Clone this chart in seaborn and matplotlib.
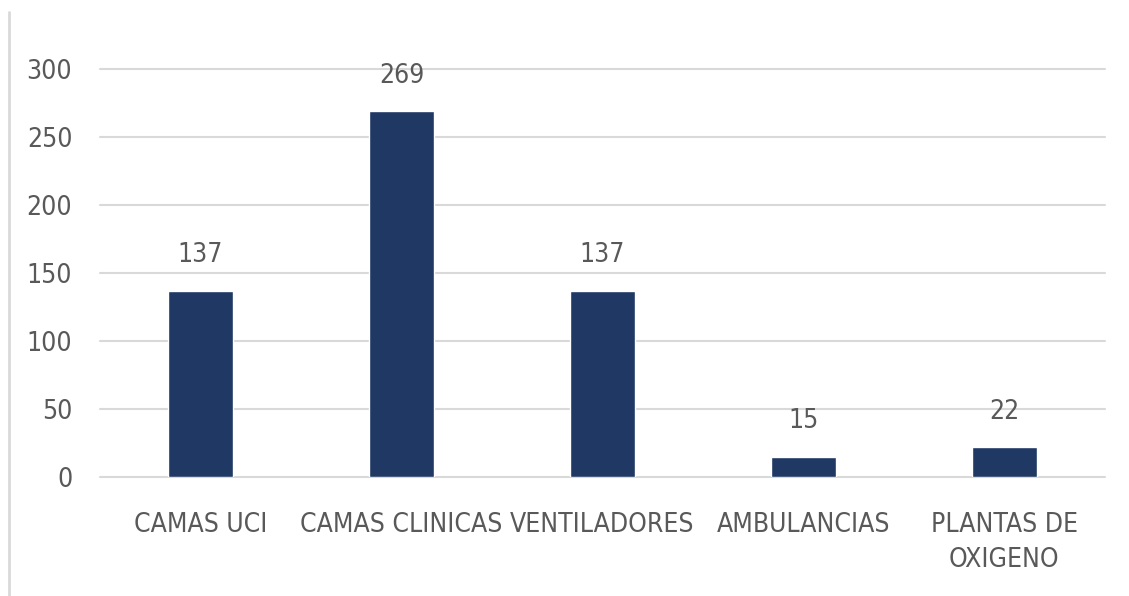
import seaborn as sns
import matplotlib.pyplot as plt
import matplotlib.lines as mlines
import pandas as pd

# data
categorias = ['CAMAS UCI', 'CAMAS CLINICAS', 'VENTILADORES', 'AMBULANCIAS', 'PLANTAS DE\nOXIGENO']
valores = [137, 269, 137, 15, 22]
yticks = [0, 50, 100, 150, 200, 250, 300]

df = pd.DataFrame({'cat': categorias, 'val': valores})

sns.set_style("white")
plt.rcParams['font.family'] = ['DejaVu Sans']
plt.rcParams['font.stretch'] = 'condensed'

text_color = '#595959'
bar_color = '#1f3864'

fig = plt.figure(figsize=(11.29, 5.96), dpi=100)
ax = fig.add_axes([0.0886, 0.1997, 0.89, 0.6845])

sns.barplot(data=df, x='cat', y='val', color=bar_color, width=0.32,
            saturation=1, ax=ax, zorder=3)

ax.set_ylim(0, 300)
ax.set_yticks(yticks)
ax.set_xlim(-0.5, len(categorias) - 0.5)
ax.yaxis.grid(True, color='#d9d9d9', linewidth=1.5, zorder=0)
for gl in ax.get_ygridlines():
    gl.set_clip_on(False)
ax.set_axisbelow(True)
for s in ax.spines.values():
    s.set_visible(False)
ax.set_xlabel('')
ax.set_ylabel('')
ax.tick_params(axis='y', length=0, pad=20, labelsize=19, labelcolor=text_color)
ax.tick_params(axis='x', length=0, pad=25, labelsize=19, labelcolor=text_color)
for lbl in ax.get_xticklabels():
    lbl.set_linespacing(1.45)

for i, v in enumerate(valores):
    ax.annotate(str(v), (i, v), xytext=(0, 16), textcoords='offset points',
                ha='center', va='bottom', fontsize=19, color=text_color)

# light vertical border line on the left
fig.add_artist(mlines.Line2D([9 / 1129, 9 / 1129], [0, 1 - 12 / 596],
                             color='#d9d9d9', linewidth=2))

fig.savefig('out.png', dpi=100)
plt.close(fig)
